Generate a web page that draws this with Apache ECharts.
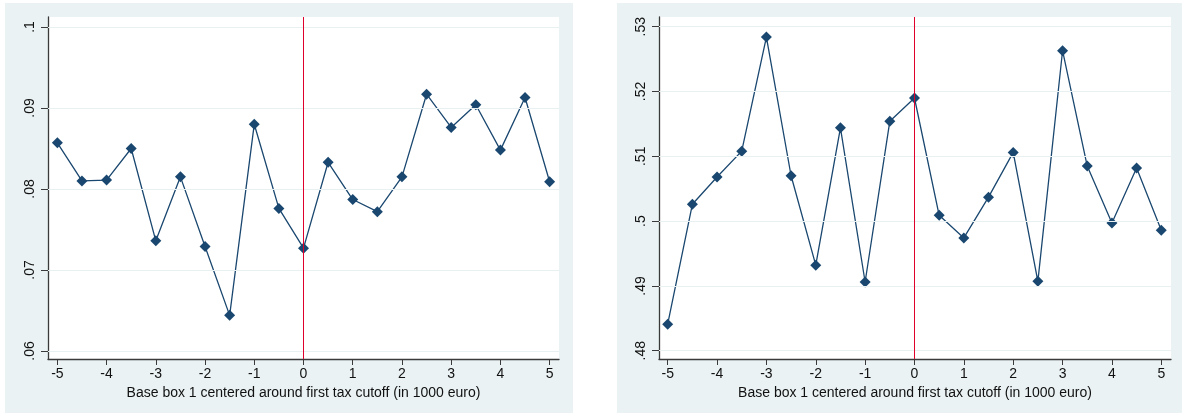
<!DOCTYPE html>
<html>
<head>
<meta charset="utf-8">
<script src="https://cdn.jsdelivr.net/npm/echarts@6/dist/echarts.min.js"></script>
<style>
  html, body { margin: 0; padding: 0; background: #ffffff; }
  body { width: 1182px; height: 414px; position: relative; overflow: hidden; }
  .panel { position: absolute; top: 3px; height: 410px; background: #eaf2f3; }
  #left { left: 5px; width: 568px; }
  #right { left: 617px; width: 565px; }
</style>
</head>
<body>
<div id="left" class="panel"></div>
<div id="right" class="panel"></div>
<script>
// Distance to the first tax cutoff, in 1000 euro (bin centres)
const bins = [-5, -4.5, -4, -3.5, -3, -2.5, -2, -1.5, -1, -0.5, 0,
              0.5, 1, 1.5, 2, 2.5, 3, 3.5, 4, 4.5, 5];

// Left panel: bin averages
const leftValues = [0.0857, 0.0810, 0.0811, 0.0850, 0.0736, 0.0815, 0.0729,
                    0.0644, 0.0880, 0.0776, 0.0727, 0.0833, 0.0787, 0.0772,
                    0.0815, 0.0917, 0.0876, 0.0904, 0.0848, 0.0913, 0.0809];

// Right panel: bin averages
const rightValues = [0.4841, 0.5026, 0.5068, 0.5108, 0.5284, 0.5070, 0.4932,
                     0.5144, 0.4906, 0.5154, 0.5190, 0.5009, 0.4974, 0.5037,
                     0.5106, 0.4907, 0.5263, 0.5085, 0.4997, 0.5082, 0.4986];

const xTicks = [-5, -4, -3, -2, -1, 0, 1, 2, 3, 4, 5];
const leftTicks = [0.06, 0.07, 0.08, 0.09, 0.1];
const rightTicks = [0.48, 0.49, 0.50, 0.51, 0.52, 0.53];
const cutoff = 0;
const xTitle = 'Base box 1 centered around first tax cutoff (in 1000 euro)';

const NAVY = '#1a476f';
const CUTOFF_RED = '#e0002c';
const GRID_LINE = '#e8f0f2';
const AXIS = '#3a3a3a';
const TEXT = '#111111';
const FONT = 'Liberation Sans, Arial, sans-serif';

// Stata-style tick text: ".09", ".1", ".5"
function stataNumber(v) {
  return parseFloat(v.toFixed(4)).toString().replace(/^0\./, '.').replace(/^-0\./, '-.');
}

function buildOption(values, yTicks, yRange, xRange, grid) {
  return {
    animation: false,
    backgroundColor: 'transparent',
    textStyle: { fontFamily: FONT },
    grid: Object.assign({
      show: true,
      backgroundColor: '#ffffff',
      borderWidth: 0
    }, grid),
    xAxis: {
      type: 'value',
      min: xRange[0],
      max: xRange[1],
      name: xTitle,
      nameLocation: 'middle',
      nameGap: 23,
      nameTextStyle: { fontFamily: FONT, fontSize: 14, color: TEXT },
      axisLine: { show: true, onZero: false, lineStyle: { color: AXIS, width: 1.3 } },
      axisTick: { show: true, length: 6, customValues: xTicks, lineStyle: { color: AXIS } },
      axisLabel: {
        customValues: xTicks,
        fontFamily: FONT, fontSize: 14, color: TEXT, margin: 8,
        formatter: v => String(v)
      },
      splitLine: { show: false }
    },
    yAxis: {
      type: 'value',
      min: yRange[0],
      max: yRange[1],
      axisLine: { show: true, onZero: false, lineStyle: { color: AXIS, width: 1.3 } },
      axisTick: { show: true, length: 7, customValues: yTicks, lineStyle: { color: AXIS } },
      axisLabel: {
        customValues: yTicks,
        rotate: 90,
        fontFamily: FONT, fontSize: 14, color: TEXT, margin: 11,
        formatter: stataNumber
      },
      splitLine: { show: false }
    },
    series: [
      {
        // horizontal grid lines and the cutoff marker, kept beneath the data
        type: 'line',
        data: [],
        z: 1,
        silent: true,
        markLine: {
          silent: true,
          symbol: ['none', 'none'],
          label: { show: false },
          animation: false,
          data: yTicks.map(t => ({ yAxis: t, lineStyle: { color: GRID_LINE, width: 1.2, type: 'solid' } }))
            .concat([{ xAxis: cutoff, lineStyle: { color: CUTOFF_RED, width: 1, type: 'solid' } }])
        }
      },
      {
        type: 'line',
        z: 3,
        data: bins.map((x, i) => [x, values[i]]),
        symbol: 'diamond',
        symbolSize: [11, 11],
        showSymbol: true,
        lineStyle: { color: NAVY, width: 1.3 },
        itemStyle: { color: NAVY, borderWidth: 0 },
        emphasis: { disabled: true }
      }
    ]
  };
}

const leftChart = echarts.init(document.getElementById('left'), null, { renderer: 'canvas' });
leftChart.setOption(buildOption(
  leftValues, leftTicks,
  [0.059012, 0.101235],
  [-5.19, 5.19],
  { left: 43, right: 14, top: 14, bottom: 54 }
));

const rightChart = echarts.init(document.getElementById('right'), null, { renderer: 'canvas' });
rightChart.setOption(buildOption(
  rightValues, rightTicks,
  [0.47872, 0.5315],
  [-5.176, 5.197],
  { left: 42, right: 11, top: 14, bottom: 54 }
));
</script>
</body>
</html>
